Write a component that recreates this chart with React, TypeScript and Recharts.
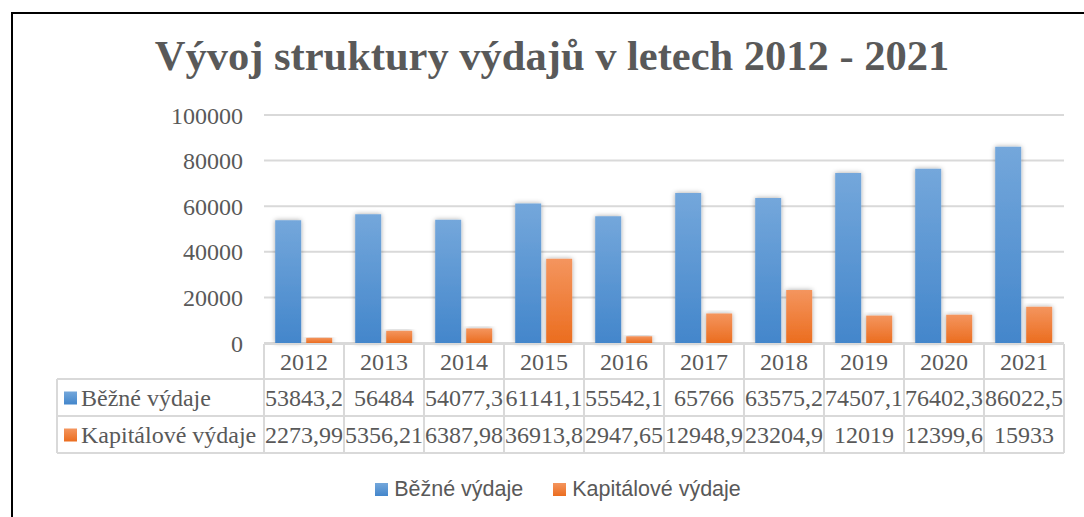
import { BarChart, Bar, XAxis, YAxis, CartesianGrid, Legend } from "recharts"

const years = ["2012", "2013", "2014", "2015", "2016", "2017", "2018", "2019", "2020", "2021"]
const bezne = [53843.2, 56484, 54077.3, 61141.1, 55542.1, 65766, 63575.2, 74507.1, 76402.3, 86022.5]
const kapitalove = [2273.99, 5356.21, 6387.98, 36913.8, 2947.65, 12948.9, 23204.9, 12019, 12399.6, 15933]
const yTicks = [0, 20000, 40000, 60000, 80000, 100000]

const SERIES = [
  { key: "bezne", name: "Běžné výdaje", values: bezne, top: "#74a7db", bottom: "#4386cb" },
  { key: "kapitalove", name: "Kapitálové výdaje", values: kapitalove, top: "#f4955e", bottom: "#eb6d1f" },
]

const data = years.map((y, i) => ({ year: y, bezne: bezne[i], kapitalove: kapitalove[i] }))

const W = 1084
const H = 517
const PLOT_LEFT = 264
const PLOT_RIGHT = 1064
const COL_W = (PLOT_RIGHT - PLOT_LEFT) / years.length
const ROW_H = [35, 37, 37]
const TABLE_LEFT = 57
const GRID = "#d9d9d9"
const TEXT = "#595959"
const SERIF = "'Liberation Serif', 'Times New Roman', serif"
const SANS = "'Liberation Sans', Arial, sans-serif"
const FS = 24

const fmt = (v: number) => String(v).replace(".", ",")

// one table column per category, placed by the axis tick
function TableTick(props: any) {
  const { x, y, payload } = props
  const i = payload.index
  const left = x - COL_W / 2
  const right = x + COL_W / 2
  const top = y + 1
  const r1 = top + ROW_H[0]
  const r2 = r1 + ROW_H[1]
  const r3 = r2 + ROW_H[2]
  return (
    <g>
      <line x1={left} y1={top} x2={right} y2={top} stroke={GRID} strokeWidth={2} />
      <line x1={right} y1={top} x2={right} y2={r3} stroke={GRID} strokeWidth={2} />
      <line x1={left} y1={top} x2={left} y2={r3} stroke={GRID} strokeWidth={2} />
      <line x1={i === 0 ? TABLE_LEFT : left} y1={r1} x2={right} y2={r1} stroke={GRID} strokeWidth={2} />
      <line x1={i === 0 ? TABLE_LEFT : left} y1={r2} x2={right} y2={r2} stroke={GRID} strokeWidth={2} />
      <line x1={i === 0 ? TABLE_LEFT : left} y1={r3} x2={right} y2={r3} stroke={GRID} strokeWidth={2} />
      <text x={x} y={top + ROW_H[0] / 2} textAnchor="middle" dominantBaseline="central"
        fontFamily={SERIF} fontSize={FS} fill={TEXT}>{payload.value}</text>
      {SERIES.map((s, k) => (
        <text key={s.key} x={x} y={(k === 0 ? r1 : r2) + ROW_H[k + 1] / 2} textAnchor="middle"
          dominantBaseline="central" fontFamily={SERIF} fontSize={FS} fill={TEXT}>{fmt(s.values[i])}</text>
      ))}
      {i === 0 && (
        <g>
          <line x1={TABLE_LEFT} y1={r1} x2={TABLE_LEFT} y2={r3} stroke={GRID} strokeWidth={2} />
          {SERIES.map((s, k) => {
            const cy = (k === 0 ? r1 : r2) + ROW_H[k + 1] / 2
            return (
              <g key={s.key}>
                <rect x={TABLE_LEFT + 7} y={cy - 6} width={13} height={13} fill={`url(#grad-${s.key})`} />
                <text x={TABLE_LEFT + 24} y={cy} dominantBaseline="central" fontFamily={SERIF}
                  fontSize={FS} fill={TEXT}>{s.name}</text>
              </g>
            )
          })}
        </g>
      )}
    </g>
  )
}

function BottomLegend() {
  return (
    <div style={{ display: "flex", justifyContent: "center", paddingTop: 13, paddingLeft: 52, height: 47, fontFamily: SANS, fontSize: 21.5, color: TEXT }}>
      {SERIES.map((s) => (
        <div key={s.key} style={{ display: "flex", alignItems: "center", margin: "0 15px" }}>
          <span style={{ display: "inline-block", width: 13, height: 13, marginRight: 6, background: `linear-gradient(${s.top}, ${s.bottom})` }} />
          <span>{s.name}</span>
        </div>
      ))}
    </div>
  )
}

export default function App() {
  return (
    <div style={{ position: "relative", width: W, height: H, overflow: "hidden", background: "#fff" }}>
      <style>{`body{margin:0;overflow:hidden}`}</style>
      <div style={{ position: "absolute", left: 11, top: 12, width: W, height: H, borderLeft: "2px solid #000", borderTop: "2px solid #000" }} />
      <div style={{ position: "absolute", left: 10, top: 31, width: W, textAlign: "center", fontFamily: SERIF, fontWeight: "bold", fontSize: 42.5, color: TEXT }}>
        Vývoj struktury výdajů v letech 2012 - 2021
      </div>
      <div style={{ position: "absolute", left: 0, top: 0 }}>
        <BarChart width={W} height={H} data={data} margin={{ top: 115, right: W - PLOT_RIGHT, bottom: 4, left: 0 }}
          barCategoryGap="14%" barGap={5}>
          <defs>
            {SERIES.map((s) => (
              <linearGradient key={s.key} id={`grad-${s.key}`} x1="0" y1="0" x2="0" y2="1">
                <stop offset="0%" stopColor={s.top} />
                <stop offset="100%" stopColor={s.bottom} />
              </linearGradient>
            ))}
            <filter id="barShadow" x="-30%" y="-10%" width="160%" height="120%">
              <feDropShadow dx="0" dy="0" stdDeviation="2.5" floodColor="#000" floodOpacity="0.35" />
            </filter>
          </defs>
          <CartesianGrid vertical={false} stroke={GRID} strokeWidth={2} />
          <YAxis width={PLOT_LEFT} domain={[0, 100000]} ticks={yTicks} axisLine={false} tickLine={false}
            tickMargin={15} tick={{ fontFamily: SERIF, fontSize: FS, fill: TEXT }} interval={0} />
          <XAxis dataKey="year" height={110} axisLine={false} tickLine={false} tickSize={0} tickMargin={0}
            interval={0} tick={<TableTick />} />
          {SERIES.map((s) => (
            <Bar key={s.key} dataKey={s.key} name={s.name} fill={`url(#grad-${s.key})`} filter="url(#barShadow)"
              isAnimationActive={false} />
          ))}
          <Legend verticalAlign="bottom" content={<BottomLegend />} wrapperStyle={{ height: 60 }} />
        </BarChart>
      </div>
    </div>
  )
}
